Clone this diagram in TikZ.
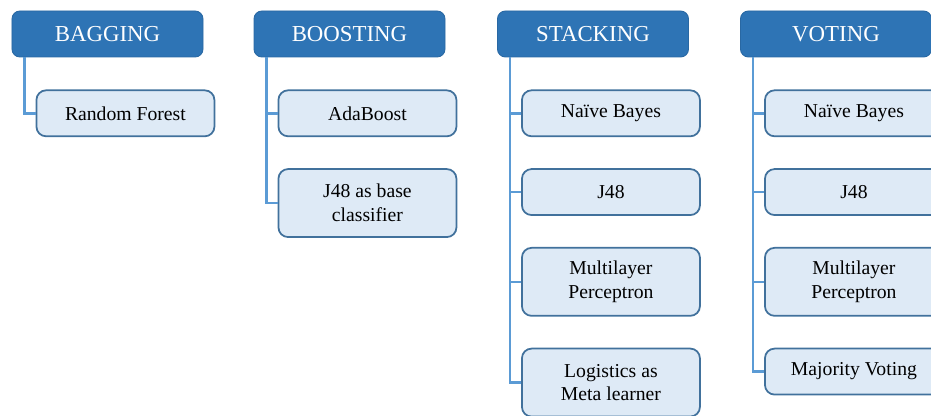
\documentclass[tikz,border=0pt]{standalone}
\usepackage{fontspec}
\setmainfont{Liberation Serif}
\usepackage{xcolor}
\definecolor{HeadBlue}{HTML}{2E74B5}
\definecolor{EdgeBlue}{HTML}{41719C}
\definecolor{SoftBlue}{HTML}{DEEAF6}
\definecolor{LinkBlue}{HTML}{5B9BD5}
\usetikzlibrary{positioning}

\begin{document}
\begin{tikzpicture}[
  node distance=0.62cm,
  head/.style={draw=HeadBlue!90!black,fill=HeadBlue,rounded corners=4.5pt,text=white,minimum width=3.82cm,minimum height=0.92cm,font=\fontsize{13}{15}\selectfont,line width=0.5pt},
  sub/.style={draw=EdgeBlue,fill=SoftBlue,rounded corners=5.5pt,align=center,minimum width=3.56cm,minimum height=0.92cm,font=\fontsize{11.2}{13.6}\selectfont,line width=1pt},
  tall/.style={sub,minimum height=1.36cm},
  link/.style={draw=LinkBlue,line width=1.4pt}
]
  \clip (0,0) rectangle (18.62,-8.32);

  \node[head] (bag) at (2.15,-0.68) {BAGGING};
  \node[head] (boost) at (6.99,-0.68) {BOOSTING};
  \node[head] (stack) at (11.86,-0.68) {STACKING};
  \node[head] (vote) at (16.72,-0.68) {VOTING};

  % bagging
  \node[sub,below right=0.64cm and 0.48cm of bag.south west] (forest) {Random Forest};

  % boosting
  \node[sub,below right=0.64cm and 0.48cm of boost.south west] (ada) {AdaBoost};
  \node[tall,below=of ada] (j48base) {J48 as base\\classifier};

  % stacking
  \node[sub,below right=0.64cm and 0.48cm of stack.south west] (stnb) {Naïve Bayes};
  \node[sub,below=of stnb] (stj48) {J48};
  \node[tall,below=of stj48] (stmlp) {Multilayer\\Perceptron};
  \node[tall,below=of stmlp] (stmeta) {Logistics as\\Meta learner};

  % voting
  \node[sub,below right=0.64cm and 0.48cm of vote.south west] (vonb) {Naïve Bayes};
  \node[sub,below=of vonb] (voj48) {J48};
  \node[tall,below=of voj48] (vomlp) {Multilayer\\Perceptron};
  \node[sub,below=of vomlp] (vomaj) {Majority Voting};

  \draw[link] ([xshift=0.26cm]bag.south west) |- (forest.west);
  \foreach \c in {ada,j48base}
    \draw[link] ([xshift=0.26cm]boost.south west) |- (\c.west);
  \foreach \c in {stnb,stj48,stmlp,stmeta}
    \draw[link] ([xshift=0.26cm]stack.south west) |- (\c.west);
  \foreach \c in {vonb,voj48,vomlp,vomaj}
    \draw[link] ([xshift=0.26cm]vote.south west) |- (\c.west);
\end{tikzpicture}
\end{document}
